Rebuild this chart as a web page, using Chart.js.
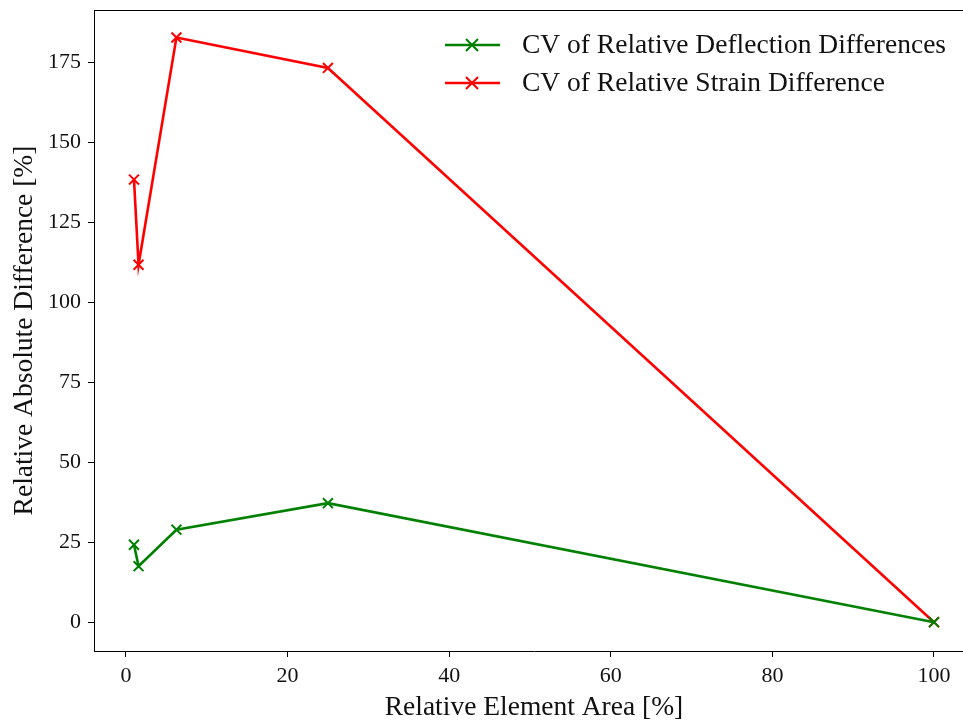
<!DOCTYPE html>
<html>
<head>
<meta charset="utf-8">
<script src="https://cdn.jsdelivr.net/npm/chart.js@4.4.0/dist/chart.umd.min.js"></script>
<style>
  html, body { margin: 0; padding: 0; background: #fff; overflow: hidden; }
  /* the reference figure is cut at the right edge, the right spine falls outside */
  #wrap { width: 963px; height: 724px; position: relative; overflow: hidden; }
</style>
</head>
<body>
<div id="wrap"><canvas id="grafica" width="983" height="724"></canvas></div>
<script>
// relative element area [%] and the two CV series [%]
const elementArea = [1, 1.5625, 6.25, 25, 100];
const deflectionCV = [24.2, 17.5, 28.9, 37.2, 0];
const strainCV = [138.3, 111.7, 182.7, 173.2, 0];

const xTicks = [0, 20, 40, 60, 80, 100];
const yTicks = [0, 25, 50, 75, 100, 125, 150, 175];

const seriesNames = ["CV of Relative Deflection Differences", "CV of Relative Strain Difference"];
const seriesColors = ["#008000", "#ff0000"];

const serif = "'Liberation Serif', 'DejaVu Serif', serif";

function toPoints(values) {
    return elementArea.map((x, i) => ({ x: x, y: values[i] }));
}

// top spine like matplotlib (the right one is outside the picture)
const frame = {
    id: "frame",
    afterDraw(chart) {
        const a = chart.chartArea;
        const ctx = chart.ctx;
        ctx.save();
        ctx.strokeStyle = "#000";
        ctx.lineWidth = 1;
        ctx.beginPath();
        ctx.moveTo(a.left, a.top + 0.5);
        ctx.lineTo(a.right, a.top + 0.5);
        ctx.stroke();
        ctx.restore();
    }
};

// legend in the upper right corner, line with an x marker
const lineLegend = {
    id: "lineLegend",
    afterDraw(chart) {
        const ctx = chart.ctx;
        ctx.save();
        ctx.font = "27.5px " + serif;
        ctx.textBaseline = "middle";
        chart.data.datasets.forEach((ds, i) => {
            const y = 45 + i * 38;
            ctx.strokeStyle = ds.borderColor;
            ctx.lineWidth = 2.6;
            ctx.beginPath();
            ctx.moveTo(445, y);
            ctx.lineTo(500, y);
            ctx.stroke();
            ctx.lineWidth = 2;
            ctx.beginPath();
            ctx.moveTo(466, y - 6); ctx.lineTo(478, y + 6);
            ctx.moveTo(466, y + 6); ctx.lineTo(478, y - 6);
            ctx.stroke();
            ctx.fillStyle = "#111";
            ctx.fillText(ds.label, 522, y + 1);
        });
        ctx.restore();
    }
};

const grafica = document.getElementById("grafica");
const myChart = new Chart(grafica, {
    type: "line",
    data: {
        datasets: [
            {
                label: seriesNames[0],
                data: toPoints(deflectionCV),
                borderColor: seriesColors[0],
                backgroundColor: seriesColors[0],
                borderWidth: 2.6,
                pointStyle: "crossRot",
                pointRadius: 7,
                pointBorderWidth: 2,
                tension: 0,
                fill: false
            },
            {
                label: seriesNames[1],
                data: toPoints(strainCV),
                borderColor: seriesColors[1],
                backgroundColor: seriesColors[1],
                borderWidth: 2.6,
                pointStyle: "crossRot",
                pointRadius: 7,
                pointBorderWidth: 2,
                tension: 0,
                fill: false
            }
        ]
    },
    options: {
        responsive: false,
        animation: false,
        layout: { padding: { top: 10, right: 0, left: 0, bottom: 0 } },
        plugins: {
            legend: { display: false },
            tooltip: { enabled: false }
        },
        scales: {
            x: {
                type: "linear",
                min: -3.95,
                max: 104.95,
                afterBuildTicks: (scale) => { scale.ticks = xTicks.map(v => ({ value: v })); },
                afterFit: (scale) => { scale.height = 73; scale.paddingLeft = 0; scale.paddingRight = 0; },
                grid: { display: true, drawOnChartArea: false, drawTicks: true, tickLength: 6, color: "#000", lineWidth: 1 },
                border: { display: true, color: "#000", width: 1 },
                ticks: { color: "#111", font: { family: serif, size: 22 }, padding: 6, maxRotation: 0 },
                title: { display: true, text: "Relative Element Area [%]", color: "#111", font: { family: serif, size: 27.5 }, padding: { top: 0, bottom: 0 } }
            },
            y: {
                type: "linear",
                min: -9.0,
                max: 191.3,
                afterBuildTicks: (scale) => { scale.ticks = yTicks.map(v => ({ value: v })); },
                afterFit: (scale) => { scale.width = 94; scale.paddingTop = 0; scale.paddingBottom = 0; },
                grid: { display: true, drawOnChartArea: false, drawTicks: true, tickLength: 6, color: "#000", lineWidth: 1 },
                border: { display: true, color: "#000", width: 1 },
                ticks: { color: "#111", font: { family: serif, size: 22 }, padding: 7 },
                title: { display: true, text: "Relative Absolute Difference [%]", color: "#111", font: { family: serif, size: 27.5 }, padding: { top: 8, bottom: 4 } }
            }
        }
    },
    plugins: [frame, lineLegend]
});
</script>
</body>
</html>
